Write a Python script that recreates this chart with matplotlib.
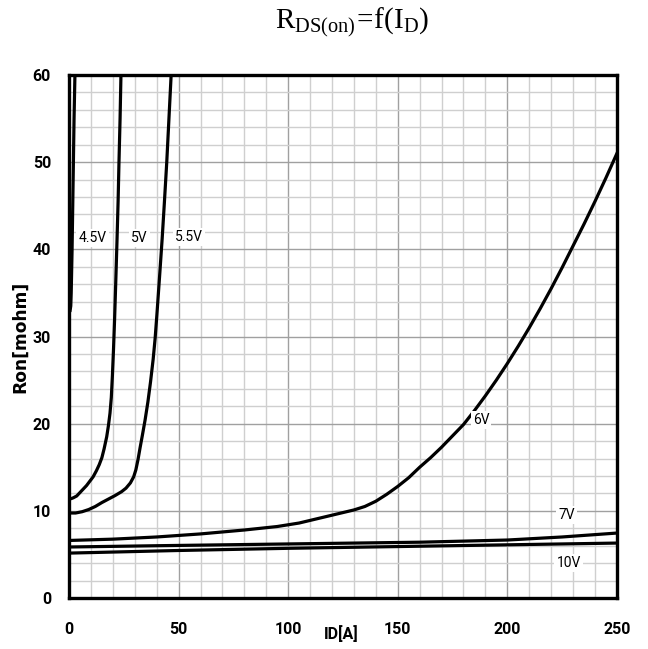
import matplotlib
matplotlib.use("Agg")
import matplotlib.pyplot as plt
from matplotlib.ticker import MultipleLocator

plt.rcParams['mathtext.fontset'] = 'custom'
plt.rcParams['mathtext.rm'] = 'Liberation Serif'

#%% data (ID in A, Ron in mohm)
id_45 = [0.5, 0.8, 1.0, 1.2, 1.4, 1.7, 2.0, 2.3, 2.7]
ron_45 = [33, 33.5, 35, 37.5, 40, 45, 50, 55, 60]

id_5 = [0, 1, 2, 3.5, 5, 6.5, 8, 9.5, 11, 12.5, 13.8, 15, 16, 17.2, 18, 18.7,
        19.3, 19.8, 20.3, 20.8, 21.3, 21.9, 22.4, 22.8, 23.3, 23.7]
ron_5 = [11.4, 11.4, 11.5, 11.7, 12.1, 12.5, 12.9, 13.4, 13.9, 14.6, 15.3, 16.1, 17.1, 18.5, 19.8, 21.2,
         23, 25.5, 28.5, 32, 36, 41, 45.5, 50, 55, 60]

id_55 = [0, 3, 6, 9, 12, 15, 18, 21, 24, 26, 28, 29.5, 30.5, 31.5, 32.4, 33.5, 34.7,
         36, 37.2, 38.4, 39.3, 40.1, 41.3, 42.5, 43.5, 44.6, 45.6, 46.6]
ron_55 = [9.75, 9.75, 9.9, 10.15, 10.5, 10.95, 11.35, 11.75, 12.2, 12.6, 13.2, 13.9, 14.7, 15.9, 17.2, 18.7, 20.4,
          22.5, 24.8, 27.4, 29.8, 32.5, 36.8, 41.2, 45.3, 50, 55, 60]

id_6 = [0, 20, 40, 60, 80, 95, 100, 105, 110, 115, 120, 125, 130, 135, 140, 145, 150, 155, 160,
        165, 170, 175, 180, 185, 190, 195, 200, 205, 210, 215, 220, 225, 230, 235, 240, 245, 250]
ron_6 = [6.6, 6.75, 7.0, 7.35, 7.8, 8.2, 8.4, 8.6, 8.9, 9.2, 9.5, 9.8, 10.1, 10.5, 11.1, 11.9, 12.8, 13.8, 15.0,
         16.1, 17.3, 18.6, 19.9, 21.5, 23.2, 25.0, 26.9, 28.9, 31.0, 33.2, 35.5, 37.9, 40.4, 42.9, 45.5, 48.2, 51]

id_7 = [0, 41, 100, 160, 200, 225, 250]
ron_7 = [5.85, 6.0, 6.2, 6.4, 6.65, 7.0, 7.45]

id_10 = [0, 50, 100, 150, 200, 250]
ron_10 = [5.15, 5.45, 5.7, 5.9, 6.1, 6.3]

curve_labels = ["4.5V", "5V", "5.5V", "6V", "7V", "10V"]
label_x = [10.7, 32.2, 54.7, 188, 227, 228]
label_y = [41.3, 41.3, 41.4, 20.4, 9.5, 4.0]

lab_font = 'Roboto'

#%% plot
fig = plt.figure(figsize=(6.48, 6.49), dpi=100)
ax = fig.add_axes([0.1065, 0.0786, 0.8455, 0.8058])

ax.set_xlim(0, 250)
ax.set_ylim(0, 60)
ax.xaxis.set_major_locator(MultipleLocator(50))
ax.xaxis.set_minor_locator(MultipleLocator(10))
ax.yaxis.set_major_locator(MultipleLocator(10))
ax.yaxis.set_minor_locator(MultipleLocator(2))
ax.grid(which='minor', color='#cfcfcf', lw=1.0)
ax.grid(which='major', color='#a0a0a0', lw=1.0)
ax.set_axisbelow(True)

for x, y in [(id_45, ron_45), (id_5, ron_5), (id_55, ron_55),
             (id_6, ron_6), (id_7, ron_7), (id_10, ron_10)]:
    ax.plot(x, y, color='black', lw=2.3, solid_joinstyle='round')

for s, x, y in zip(curve_labels, label_x, label_y):
    ax.text(x, y, s, fontsize=10, family=lab_font,
            ha='center', va='center',
            bbox=dict(facecolor='white', edgecolor='none', pad=1.5))

for sp in ax.spines.values():
    sp.set_linewidth(2.4)

ax.tick_params(which='both', length=0)
ax.tick_params(axis='y', pad=13)
ax.tick_params(axis='x', pad=17)
for lab in ax.get_xticklabels() + ax.get_yticklabels():
    lab.set_fontsize(11.5)
    lab.set_fontweight('bold')
    lab.set_family(lab_font)

ax.set_ylabel("Ron[mohm]", fontsize=12.3, fontweight='bold', family='DejaVu Sans')
ax.yaxis.set_label_coords(-0.072, 0.5)
fig.text(341/648, 1 - 634/649, "ID[A]", fontsize=11.5, fontweight='bold',
         family=lab_font, ha='center', va='center')

fig.text(352/648, 1 - 22/649, r"$\mathrm{R_{DS(on)}\!=\!f(I_D)}$", fontsize=21,
         ha='center', va='center')

plt.savefig("out.png", dpi=100)
